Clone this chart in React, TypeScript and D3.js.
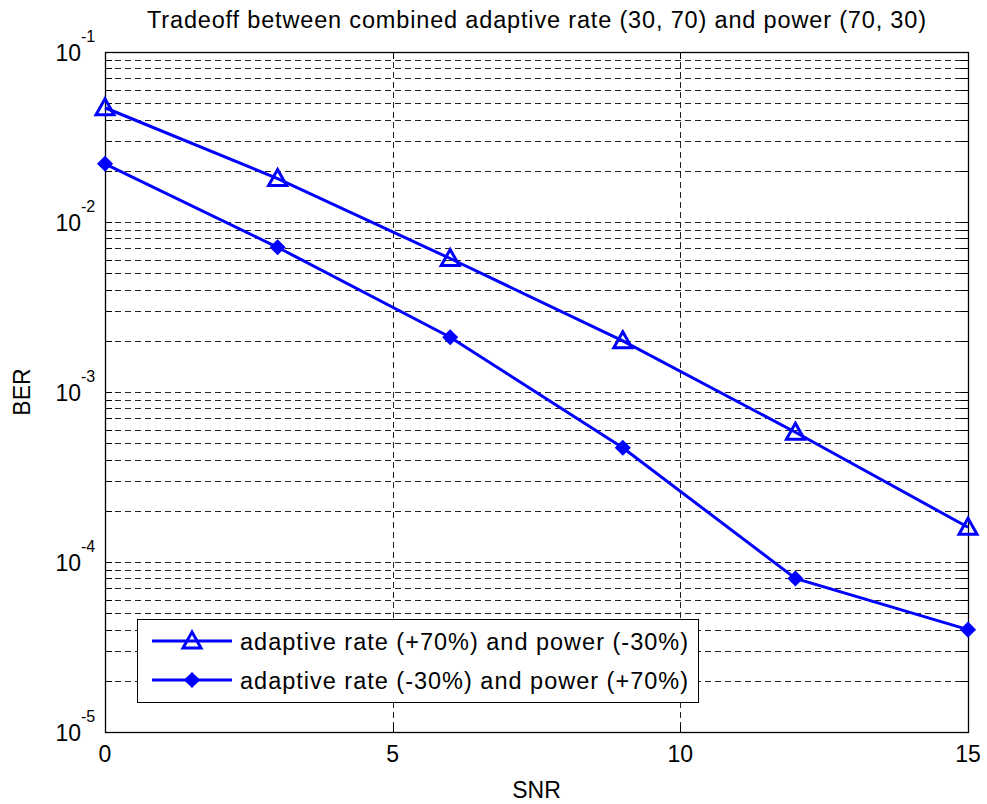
import React, { useRef, useEffect } from "react";
import * as d3 from "d3";

const snr = [0, 3, 6, 9, 12, 15];
const berRateUp = [0.047, 0.018, 0.0061, 0.002, 0.00058, 0.00016];
const berPowerUp = [0.022, 0.0071, 0.0021, 0.00047, 0.00008, 0.00004];
const seriesNames = [
  "adaptive rate (+70%) and power (-30%)",
  "adaptive rate (-30%) and power (+70%)",
];
const xTicks = [0, 5, 10, 15];
const yDecades = [-5, -4, -3, -2, -1];

const App = () => {
  const ref = useRef<SVGSVGElement>(null);

  useEffect(() => {
    const width = 987;
    const height = 804;
    const left = 105;
    const right = 968;
    const top = 52;
    const bottom = 732;
    const font = "Liberation Sans, Arial, Helvetica, sans-serif";
    const blue = "#0000ff";

    const svg = d3.select(ref.current);
    svg.selectAll("*").remove();
    svg.attr("width", width).attr("height", height);

    svg.append("rect").attr("width", width).attr("height", height).attr("fill", "#fff");

    const x = d3.scaleLinear().domain([0, 15]).range([left, right]);
    const y = d3.scaleLog().domain([1e-5, 1e-1]).range([bottom, top]);

    // minor + major grid values for the log axis
    const yGrid: number[] = [];
    yDecades.slice(0, -1).forEach((e) => {
      for (let m = 1; m <= 9; m++) yGrid.push(m * Math.pow(10, e));
    });
    yGrid.push(1e-1);

    const grid = svg.append("g").attr("stroke", "#222").attr("stroke-width", 1)
      .attr("stroke-dasharray", "6,4").attr("shape-rendering", "crispEdges");
    grid.selectAll("line.h").data(yGrid.filter((v) => v > 1e-5 && v < 1e-1)).enter()
      .append("line").attr("class", "h")
      .attr("x1", left).attr("x2", right)
      .attr("y1", (d) => Math.round(y(d)) + 0.5).attr("y2", (d) => Math.round(y(d)) + 0.5);
    grid.selectAll("line.v").data(xTicks.slice(1, -1)).enter()
      .append("line").attr("class", "v")
      .attr("y1", top).attr("y2", bottom)
      .attr("x1", (d) => Math.round(x(d)) + 0.5).attr("x2", (d) => Math.round(x(d)) + 0.5);

    // ticks (inside, on all four sides)
    const ticks = svg.append("g").attr("stroke", "#000").attr("stroke-width", 1)
      .attr("shape-rendering", "crispEdges");
    const tl = 7;
    yGrid.forEach((v) => {
      const yy = Math.round(y(v)) + 0.5;
      ticks.append("line").attr("x1", left).attr("x2", left + tl).attr("y1", yy).attr("y2", yy);
      ticks.append("line").attr("x1", right - tl).attr("x2", right).attr("y1", yy).attr("y2", yy);
    });
    xTicks.forEach((v) => {
      const xx = Math.round(x(v)) + 0.5;
      ticks.append("line").attr("x1", xx).attr("x2", xx).attr("y1", bottom).attr("y2", bottom - tl);
      ticks.append("line").attr("x1", xx).attr("x2", xx).attr("y1", top).attr("y2", top + tl);
    });

    svg.append("rect").attr("x", left + 0.5).attr("y", top + 0.5)
      .attr("width", right - left).attr("height", bottom - top)
      .attr("fill", "none").attr("stroke", "#000").attr("stroke-width", 1.3);

    // tick labels
    svg.selectAll("text.xt").data(xTicks).enter().append("text")
      .attr("x", (d) => x(d)).attr("y", bottom + 30)
      .attr("text-anchor", "middle").attr("font-family", font).attr("font-size", 23)
      .text((d) => d);

    yDecades.forEach((e) => {
      const yy = y(Math.pow(10, e));
      svg.append("text").attr("x", 81).attr("y", yy + 9).attr("text-anchor", "end")
        .attr("font-family", font).attr("font-size", 23).text("10");
      svg.append("text").attr("x", 81).attr("y", yy - 10)
        .attr("font-family", font).attr("font-size", 16).text(`${e}`);
    });

    // axis labels and title
    svg.append("text").attr("x", (left + right) / 2).attr("y", 798)
      .attr("text-anchor", "middle").attr("font-family", font).attr("font-size", 23).text("SNR");
    svg.append("text").attr("transform", `translate(30, ${(top + bottom) / 2}) rotate(-90)`)
      .attr("text-anchor", "middle").attr("font-family", font).attr("font-size", 23).text("BER");
    svg.append("text").attr("x", (left + right) / 2).attr("y", 28)
      .attr("text-anchor", "middle").attr("font-family", font).attr("font-size", 23.5)
      .attr("textLength", 779).attr("lengthAdjust", "spacing")
      .text("Tradeoff between combined adaptive rate (30, 70) and power (70, 30)");

    const line = d3.line<number>().x((d, i) => x(snr[i])).y((d) => y(d));
    const tri = (cx: number, cy: number) =>
      `M${cx},${cy - 9}L${cx + 9},${cy + 7}L${cx - 9},${cy + 7}Z`;
    const dia = (cx: number, cy: number) =>
      `M${cx},${cy - 7}L${cx + 7},${cy}L${cx},${cy + 7}L${cx - 7},${cy}Z`;

    const plot = svg.append("g");
    plot.append("path").attr("d", line(berRateUp)).attr("fill", "none")
      .attr("stroke", blue).attr("stroke-width", 3);
    plot.append("path").attr("d", line(berPowerUp)).attr("fill", "none")
      .attr("stroke", blue).attr("stroke-width", 3);
    plot.selectAll("path.tri").data(berRateUp).enter().append("path").attr("class", "tri")
      .attr("d", (d, i) => tri(x(snr[i]), y(d)))
      .attr("fill", "none").attr("stroke", blue).attr("stroke-width", 3);
    plot.selectAll("path.dia").data(berPowerUp).enter().append("path").attr("class", "dia")
      .attr("d", (d, i) => dia(x(snr[i]), y(d)))
      .attr("fill", blue).attr("stroke", blue).attr("stroke-width", 1.5);

    // legend
    const lg = svg.append("g");
    lg.append("rect").attr("x", 137.5).attr("y", 619.5).attr("width", 561).attr("height", 83)
      .attr("fill", "#fff").attr("stroke", "#000").attr("stroke-width", 1);
    seriesNames.forEach((name, i) => {
      const ly = 641 + i * 39;
      lg.append("line").attr("x1", 152).attr("x2", 232).attr("y1", ly).attr("y2", ly)
        .attr("stroke", blue).attr("stroke-width", 3);
      if (i === 0) {
        lg.append("path").attr("d", tri(192, ly)).attr("fill", "none")
          .attr("stroke", blue).attr("stroke-width", 3);
      } else {
        lg.append("path").attr("d", dia(192, ly)).attr("fill", blue)
          .attr("stroke", blue).attr("stroke-width", 1.5);
      }
      lg.append("text").attr("x", 240).attr("y", ly + 9)
        .attr("font-family", font).attr("font-size", 23.5)
        .attr("textLength", 448).attr("lengthAdjust", "spacing").text(name);
    });
  }, []);

  return (
    <svg ref={ref} style={{ position: "absolute", left: 0, top: 0, display: "block" }}></svg>
  );
};

export default App;
